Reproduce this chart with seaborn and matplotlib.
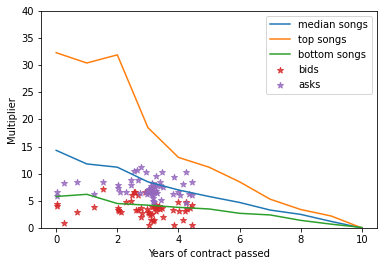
import matplotlib
matplotlib.use("Agg")
import matplotlib.pyplot as plt
import seaborn as sns
import pandas as pd

years = [0, 1, 2, 3, 4, 5, 6, 7, 8, 9, 10]
median_songs = [14.3, 11.8, 11.2, 8.5, 7.0, 5.8, 4.7, 3.3, 2.5, 1.2, 0.0]
top_songs = [32.3, 30.4, 31.9, 18.5, 13.0, 11.2, 8.5, 5.3, 3.4, 2.2, 0.0]
bottom_songs = [5.8, 6.2, 4.5, 4.2, 3.8, 3.5, 2.7, 2.4, 1.4, 0.7, 0.1]

bids_x = [0.02, 0.04, 0.24, 0.67, 1.23, 1.52, 2.01, 2.01, 2.04, 2.12, 2.30, 2.46,
          2.48, 2.54, 2.59, 2.62, 2.68, 2.68, 2.78, 2.79, 2.81, 2.89, 2.97, 3.00,
          3.03, 3.05, 3.10, 3.17, 3.15, 3.19, 3.20, 3.25, 3.30, 3.36, 3.39, 3.46,
          3.49, 3.25, 3.83, 3.85, 4.00, 4.03, 4.14, 4.21, 4.26, 4.28, 4.37, 4.44,
          4.44, 3.12, 3.22, 3.08, 3.28]
bids_y = [4.5, 4.1, 1.0, 2.9, 3.8, 7.2, 3.7, 3.3, 3.1, 2.9, 4.7, 5.0,
          6.1, 6.6, 6.7, 3.4, 3.4, 6.1, 3.7, 2.1, 2.8, 6.6, 3.5, 3.0,
          0.6, 2.8, 1.5, 1.2, 2.5, 4.0, 1.5, 4.1, 3.7, 4.0, 3.5, 3.7,
          2.1, 3.1, 3.4, 0.6, 4.7, 3.1, 1.4, 3.1, 4.8, 3.5, 3.7, 4.3,
          0.6, 3.9, 3.6, 2.3, 4.2]

asks_x = [0.02, 0.04, 0.24, 0.67, 1.23, 1.52, 2.01, 2.01, 2.10, 2.30, 2.46, 2.46,
          2.54, 2.63, 2.68, 2.79, 2.93, 2.73, 3.26, 3.39, 3.41, 3.48, 3.46, 3.43,
          3.84, 3.83, 4.00, 4.04, 4.15, 4.24, 4.25, 4.34, 4.44, 4.44,
          3.00, 3.05, 3.10, 3.15, 3.20, 3.12, 3.18, 3.22, 3.08, 2.98, 3.25, 3.15,
          3.18, 3.20, 3.17, 3.30, 3.10, 3.02, 2.95, 3.28]
asks_y = [6.6, 5.8, 8.3, 8.5, 6.2, 8.5, 8.0, 7.3, 6.7, 6.6, 8.0, 8.9,
          10.5, 10.6, 8.9, 11.3, 10.3, 6.4, 9.5, 8.4, 7.7, 7.5, 10.3, 5.2,
          9.3, 6.3, 6.6, 6.1, 8.1, 10.3, 4.6, 6.3, 6.0, 8.5,
          7.0, 6.5, 7.8, 7.2, 6.8, 6.2, 5.6, 7.5, 7.0, 6.3, 6.9, 8.2,
          5.0, 4.8, 6.0, 6.4, 7.4, 7.2, 6.6, 7.9]

fig, ax = plt.subplots(figsize=(386 / 72, 266 / 72), dpi=72)
fig.subplots_adjust(left=0.106, right=0.977, top=0.959, bottom=0.143)

lines = pd.DataFrame({"year": years, "median": median_songs,
                      "top": top_songs, "bottom": bottom_songs})
sns.lineplot(data=lines, x="year", y="median", ax=ax, color="tab:blue",
             label="median songs", linewidth=1.5)
sns.lineplot(data=lines, x="year", y="top", ax=ax, color="tab:orange",
             label="top songs", linewidth=1.5)
sns.lineplot(data=lines, x="year", y="bottom", ax=ax, color="tab:green",
             label="bottom songs", linewidth=1.5)

bids = pd.DataFrame({"x": bids_x, "y": bids_y})
asks = pd.DataFrame({"x": asks_x, "y": asks_y})
sns.scatterplot(data=bids, x="x", y="y", ax=ax, marker="*", color="tab:red",
                s=40, alpha=0.8, linewidth=1, edgecolor="tab:red", label="bids")
sns.scatterplot(data=asks, x="x", y="y", ax=ax, marker="*", color="tab:purple",
                s=40, alpha=0.8, linewidth=1, edgecolor="tab:purple", label="asks")

ax.set_ylim(0, 40)
ax.set_xlim(-0.5, 10.5)
ax.set_xlabel("Years of contract passed")
ax.set_ylabel("Multiplier")
ax.legend(loc="upper right")

fig.savefig("out.png", dpi=72)
